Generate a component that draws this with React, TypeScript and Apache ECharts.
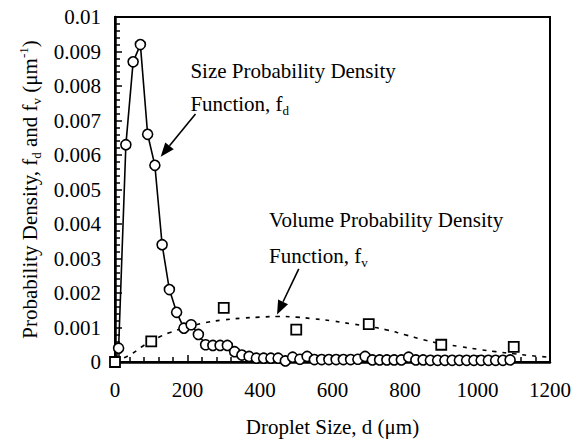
import { useEffect, useRef } from 'react';
import * as echarts from 'echarts';

// Size probability density f_d (circles, solid line)
const sizeX = [10, 30, 50, 70, 90, 110, 130, 150, 170, 190, 210, 230, 250, 270, 290, 310, 330, 350, 370, 390,
  410, 430, 450, 470, 490, 510, 530, 550, 570, 590, 610, 630, 650, 670, 690, 710, 730, 750, 770, 790,
  810, 830, 850, 870, 890, 910, 930, 950, 970, 990, 1010, 1030, 1050, 1070, 1090];
const sizeY = [0.0004, 0.0063, 0.0087, 0.0092, 0.0066, 0.0057, 0.0034, 0.0021, 0.00144, 0.00098,
  0.00108, 0.0008, 0.0005, 0.00048, 0.00048, 0.00048, 0.0003, 0.0002, 0.00016, 0.00011,
  0.00011, 0.00011, 0.00011, 0.00003, 0.00014, 0.00008, 0.00016, 0.00007, 0.00007, 0.00007,
  0.00007, 0.00007, 0.00007, 0.00008, 0.00016, 0.00006, 0.00006, 0.00006, 0.00006, 0.00006,
  0.00014, 0.00006, 0.00006, 0.00005, 0.00005, 0.00005, 0.00005, 0.00005, 0.00005, 0.00005,
  0.00005, 0.00005, 0.00005, 0.00005, 0.00006];

// Volume probability density f_v (squares)
const volX = [0, 100, 300, 500, 700, 900, 1100];
const volY = [0, 0.0006, 0.00157, 0.00094, 0.0011, 0.0005, 0.00044];

// Volume density fitted curve (dotted)
const fitX = [0, 25, 50, 75, 100, 125, 150, 200, 250, 300, 350, 400, 450, 500, 550, 600, 650, 700,
  750, 800, 850, 900, 950, 1000, 1050, 1100, 1150, 1200];
const fitY = [0, 0.00012, 0.00026, 0.00045, 0.0006, 0.00074, 0.00085, 0.00101, 0.00114, 0.00122,
  0.00127, 0.0013, 0.00132, 0.0013, 0.00125, 0.00119, 0.00111, 0.00103, 0.00093, 0.00079,
  0.00065, 0.00053, 0.00045, 0.00037, 0.0003, 0.00024, 0.00018, 0.00014];

const xMin = 0, xMax = 1200, xStep = 200;
const yMin = 0, yMax = 0.01, yStep = 0.001;

// Annotations (data coordinates)
const note1Lines = ['{a|Size Probability Density}', '{a|Function, f}{s|d}'];
const note1Pos = [208, 0.00843];
const note1LineGap = 0.00094;
const arrow1 = [[222, 0.00719], [126, 0.00595]];
const note2Lines = ['{a|Volume Probability Density}', '{a|Function, f}{s|v}'];
const note2Pos = [425, 0.00412];
const note2LineGap = 0.00105;
const arrow2 = [[507, 0.0027], [447, 0.00138]];

const FONT = 'Liberation Serif, Times New Roman, serif';

export default function App() {
  const ref = useRef<HTMLDivElement>(null);
  useEffect(() => {
    document.body.style.margin = '0';
    const chart = echarts.init(ref.current!, null, { renderer: 'svg' });
    const axisCommon = {
      axisLine: { show: true, lineStyle: { color: '#000', width: 2.5 } },
      axisTick: { show: true, inside: true, length: 7, lineStyle: { color: '#000', width: 1.5 } },
      minorTick: { show: true, splitNumber: 5, length: 5, lineStyle: { color: '#000', width: 1.5 } },
      splitLine: { show: false },
      axisLabel: { color: '#000', fontFamily: FONT, fontSize: 21, formatter: (v: number) => String(+v.toFixed(4)) },
    };
    chart.setOption({
      animation: false,
      backgroundColor: '#fff',
      grid: { left: 115, right: 17, top: 17, bottom: 71.5, show: true, borderColor: '#000', borderWidth: 2 },
      xAxis: {
        type: 'value', min: xMin, max: xMax, interval: xStep,
        ...axisCommon,
        axisLabel: { ...axisCommon.axisLabel, margin: 17 },
        name: 'Droplet Size, d (μm)', nameLocation: 'middle', nameGap: 54,
        nameTextStyle: { color: '#000', fontFamily: FONT, fontSize: 21 },
      },
      yAxis: {
        type: 'value', min: yMin, max: yMax, interval: yStep,
        ...axisCommon,
        axisLabel: { ...axisCommon.axisLabel, margin: 14 },
        name: '{a|Probability Density, f}{s|d}{a| and f}{s|v}{a| (μm}{p|-1}{a|)}',
        nameLocation: 'middle', nameGap: 70, nameRotate: 90,
        nameTextStyle: {
          color: '#000', fontFamily: FONT, fontSize: 21,
          rich: {
            a: { fontFamily: FONT, fontSize: 21, color: '#000', lineHeight: 26, verticalAlign: 'middle' },
            s: { fontFamily: FONT, fontSize: 13, color: '#000', lineHeight: 26, verticalAlign: 'bottom' },
            p: { fontFamily: FONT, fontSize: 13, color: '#000', lineHeight: 26, verticalAlign: 'top' },
          },
        },
      },
      series: [
        {
          type: 'line', data: fitX.map((x, i) => [x, fitY[i]]), smooth: true, showSymbol: false, symbol: 'none',
          lineStyle: { color: '#000', width: 1.6, type: [4, 6] }, z: 1,
        },
        {
          type: 'scatter', data: volX.map((x, i) => [x, volY[i]]), symbol: 'rect', symbolSize: 10,
          itemStyle: { color: '#fff', borderColor: '#000', borderWidth: 1.8, opacity: 1 }, z: 2,
        },
        {
          type: 'line', data: sizeX.map((x, i) => [x, sizeY[i]]), symbol: 'circle', symbolSize: 10,
          showAllSymbol: true,
          lineStyle: { color: '#000', width: 1.6 },
          itemStyle: { color: '#fff', borderColor: '#000', borderWidth: 1.6 }, z: 3,
        },
      ],
    });

    const px = (p: number[]) => chart.convertToPixel({ gridIndex: 0 }, p) as number[];
    const rich = {
      a: { fontFamily: FONT, fontSize: 21, fill: '#000', lineHeight: 26, verticalAlign: 'middle' },
      s: { fontFamily: FONT, fontSize: 13, fill: '#000', lineHeight: 26, verticalAlign: 'bottom' },
    };
    const texts = (lines: string[], pos: number[], gap: number) => lines.map((t, i) => {
      const p = px([pos[0], pos[1] - i * gap]);
      return {
        type: 'text', x: p[0], y: p[1], z: 10,
        style: { text: t, rich, fill: '#000', align: 'left', verticalAlign: 'middle', fontFamily: FONT, fontSize: 21 },
      };
    });
    const arrow = (a: number[][]) => {
      const s = px(a[0]);
      const e = px(a[1]);
      const dx = e[0] - s[0], dy = e[1] - s[1];
      const len = Math.hypot(dx, dy);
      const ux = dx / len, uy = dy / len;
      const hl = 14, hw = 5.5;
      const bx = e[0] - ux * hl, by = e[1] - uy * hl;
      return [
        { type: 'line', z: 10, shape: { x1: s[0], y1: s[1], x2: bx, y2: by }, style: { stroke: '#000', lineWidth: 1.6 } },
        {
          type: 'polygon', z: 10,
          shape: { points: [[e[0], e[1]], [bx - uy * hw, by + ux * hw], [bx + uy * hw, by - ux * hw]] },
          style: { fill: '#000' },
        },
      ];
    };
    chart.setOption({
      graphic: [
        ...texts(note1Lines, note1Pos, note1LineGap),
        ...texts(note2Lines, note2Pos, note2LineGap),
        ...arrow(arrow1),
        ...arrow(arrow2),
      ],
    });
    return () => chart.dispose();
  }, []);
  return <div ref={ref} style={{ width: 574, height: 442 }} />;
}
